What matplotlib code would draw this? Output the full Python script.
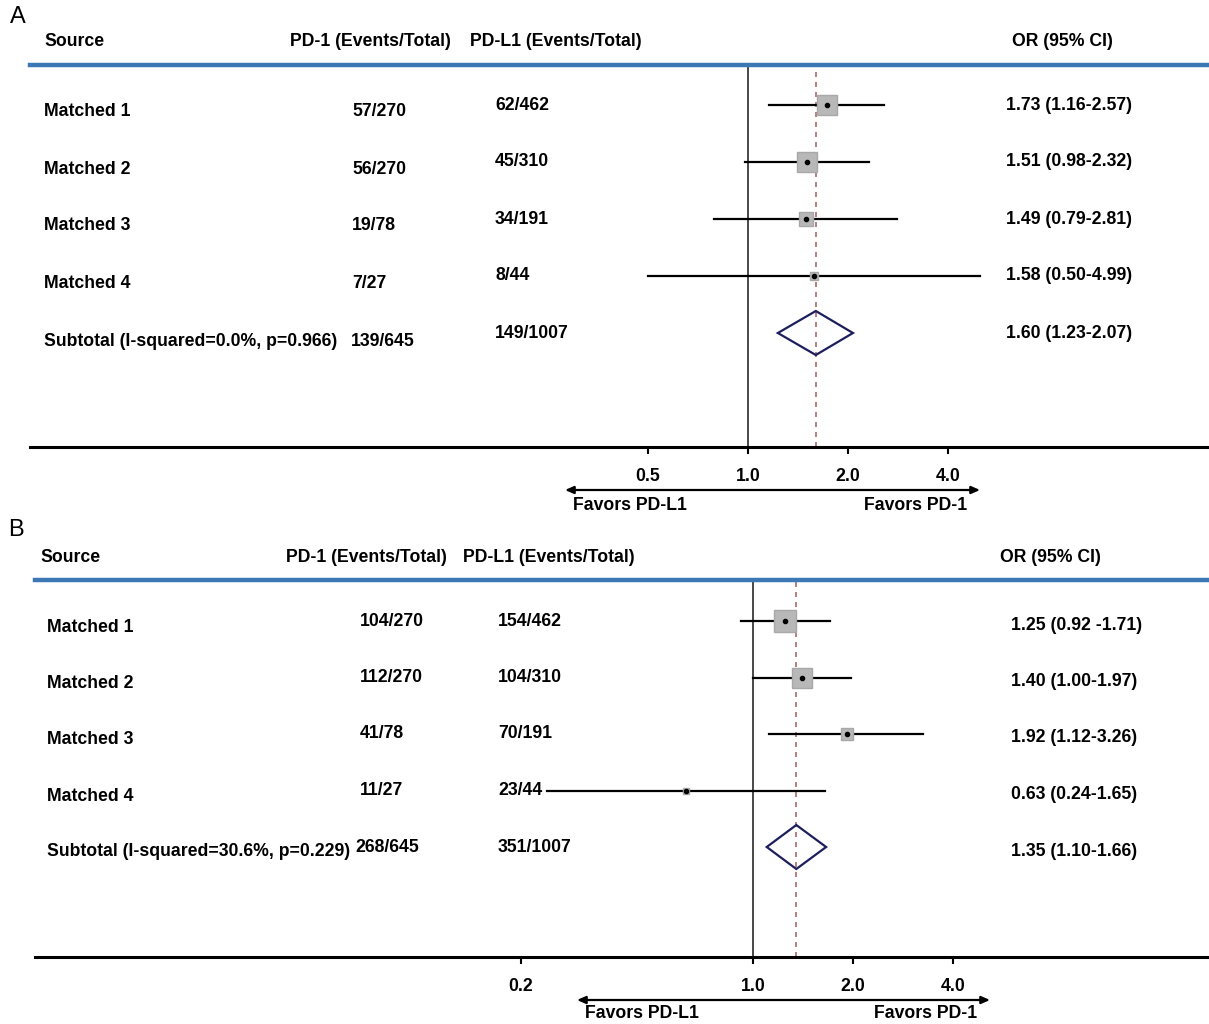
import matplotlib
matplotlib.use("Agg")
import matplotlib.pyplot as plt
import matplotlib.transforms as mtransforms
from matplotlib.patches import Polygon
from matplotlib.ticker import NullLocator

plt.rcParams["font.family"] = ["Liberation Sans", "DejaVu Sans"]

# ---- data -------------------------------------------------------------
studies = ["Matched 1", "Matched 2", "Matched 3", "Matched 4"]

a_pd1 = ["57/270", "56/270", "19/78", "7/27"]
a_pdl1 = ["62/462", "45/310", "34/191", "8/44"]
a_or = [1.73, 1.51, 1.49, 1.58]
a_lo = [1.16, 0.98, 0.79, 0.50]
a_hi = [2.57, 2.32, 2.81, 4.99]
a_weight = [42.3, 36.0, 16.6, 5.1]
a_sub_label = "Subtotal (I-squared=0.0%, p=0.966)"
a_sub_pd1 = "139/645"
a_sub_pdl1 = "149/1007"
a_sub = (1.60, 1.23, 2.07)
a_ticks = [0.5, 1.0, 2.0, 4.0]
a_ticklabels = ["0.5", "1.0", "2.0", "4.0"]
a_ci_text = ["1.73 (1.16-2.57)", "1.51 (0.98-2.32)", "1.49 (0.79-2.81)",
             "1.58 (0.50-4.99)", "1.60 (1.23-2.07)"]

b_pd1 = ["104/270", "112/270", "41/78", "11/27"]
b_pdl1 = ["154/462", "104/310", "70/191", "23/44"]
b_or = [1.25, 1.40, 1.92, 0.63]
b_lo = [0.92, 1.00, 1.12, 0.24]
b_hi = [1.71, 1.97, 3.26, 1.65]
b_weight = [44.0, 36.7, 14.7, 4.5]
b_sub_label = "Subtotal (I-squared=30.6%, p=0.229)"
b_sub_pd1 = "268/645"
b_sub_pdl1 = "351/1007"
b_sub = (1.35, 1.10, 1.66)
b_ticks = [0.2, 1.0, 2.0, 4.0]
b_ticklabels = ["0.2", "1.0", "2.0", "4.0"]
b_ci_text = ["1.25 (0.92 -1.71)", "1.40 (1.00-1.97)", "1.92 (1.12-3.26)",
             "0.63 (0.24-1.65)", "1.35 (1.10-1.66)"]

W, H = 1209, 1024
fig = plt.figure(figsize=(W / 100, H / 100), dpi=100)
FS = 12.7


def panel(box, one_px, row0, step, cols, offs, sub_offs, arrow, pd1, pdl1,
          ors, lo, hi, wts, sub_label, sub_pd1, sub_pdl1, sub, ticks,
          ticklabels, ci_text):
    left, right, top, bottom = box
    ax = fig.add_axes([left / W, 1 - bottom / H, (right - left) / W,
                       (bottom - top) / H])
    ax.set_xscale("log", base=2)
    ax.set_xlim(2 ** ((left - one_px) / 100), 2 ** ((right - one_px) / 100))
    ax.set_ylim((bottom - row0) / step, -(row0 - top) / step)

    for s in ("left", "right"):
        ax.spines[s].set_visible(False)
    ax.spines["top"].set_color("#3c77b6")
    ax.spines["top"].set_linewidth(3.2)
    ax.spines["bottom"].set_linewidth(2.2)
    ax.set_yticks([])
    ax.set_xticks(ticks)
    ax.set_xticklabels(ticklabels, fontsize=FS, fontweight="bold")
    ax.xaxis.set_minor_locator(NullLocator())
    ax.tick_params(axis="x", length=5, width=1.5, pad=10)

    ax.axvline(1.0, color="#3a3a3a", lw=1.3, zorder=1)
    ax.axvline(sub[0], color="#a86a6a", lw=1.2, ls=(0, (3, 3)), zorder=1)

    rows = list(range(len(ors)))
    for i in rows:
        ax.plot([lo[i], hi[i]], [i, i], color="black", lw=1.6, zorder=2)
        side = 21 * (wts[i] / 43) ** 0.5 * 0.72
        ax.plot(ors[i], i, marker="s", ms=side, color="#b8b8b8",
                mec="#a8a8a8", zorder=3)
        ax.plot(ors[i], i, marker="o", ms=3.0, color="black", zorder=4)

    k = len(ors)
    est, slo, shi = sub
    h = 22 / step
    ax.add_patch(Polygon([(slo, k), (est, k - h), (shi, k), (est, k + h)],
                         closed=True, fill=False, edgecolor="#1c1f5c",
                         lw=1.6, zorder=3))

    trans = mtransforms.blended_transform_factory(fig.transFigure, ax.transData)

    def put(px, y, s, dy=0):
        t = mtransforms.offset_copy(trans, fig=fig, x=0, y=-dy, units="dots")
        ax.text(px / W, y, s, transform=t, ha="left", va="center",
                fontsize=FS, fontweight="bold", clip_on=False)

    hy = (cols["hy"] - row0) / step
    put(cols["src_h"], hy, "Source")
    put(cols["pd1_h"], hy, "PD-1 (Events/Total)")
    put(cols["pdl1_h"], hy, "PD-L1 (Events/Total)")
    put(cols["or_h"], hy, "OR (95% CI)")

    for i in rows:
        put(cols["src"], i, studies[i], offs[0])
        put(cols["pd1"], i, pd1[i], offs[1])
        put(cols["pdl1"], i, pdl1[i], offs[2])
        put(cols["or"], i, ci_text[i], offs[3])
    put(cols["src"], k, sub_label, sub_offs[0])
    put(cols["sub_pd1"], k, sub_pd1, sub_offs[1])
    put(cols["pdl1"], k, sub_pdl1, sub_offs[2])
    put(cols["or"], k, ci_text[k], sub_offs[3])

    # favours arrow under the axis
    x0 = 2 ** ((arrow[0] - one_px) / 100)
    x1 = 2 ** ((arrow[1] - one_px) / 100)
    ya = -(arrow[2] - bottom) / (bottom - top)
    yt = -(arrow[3] - bottom) / (bottom - top)
    ax.annotate("", xy=(x1, ya), xytext=(x0, ya),
                xycoords=("data", "axes fraction"),
                arrowprops=dict(arrowstyle="<|-|>,head_length=0.5,head_width=0.22",
                                color="black", lw=1.6, shrinkA=0, shrinkB=0))
    ax.annotate("Favors PD-L1", xy=(x0, yt), xycoords=("data", "axes fraction"),
                xytext=(6, 0), textcoords="offset points", ha="left",
                va="center", fontsize=FS, fontweight="bold")
    ax.annotate("Favors PD-1", xy=(x1, yt), xycoords=("data", "axes fraction"),
                xytext=(-9, 0), textcoords="offset points", ha="right",
                va="center", fontsize=FS, fontweight="bold")
    return ax


panel((30, 1209, 65, 447), 748, 105, 57,
      {"hy": 41, "src_h": 44, "pd1_h": 290, "pdl1_h": 470, "or_h": 1012,
       "src": 44, "pd1": 352, "sub_pd1": 351, "pdl1": 495, "or": 1006},
      (7, 7, 0, 0), (8, 8, 0, 0), (565, 980, 490, 506),
      a_pd1, a_pdl1, a_or, a_lo, a_hi, a_weight, a_sub_label, a_sub_pd1,
      a_sub_pdl1, a_sub, a_ticks, a_ticklabels, a_ci_text)

panel((35, 1209, 580, 957), 753, 621, 56.5,
      {"hy": 557, "src_h": 40, "pd1_h": 286, "pdl1_h": 463, "or_h": 1000,
       "src": 47, "pd1": 360, "sub_pd1": 355, "pdl1": 498, "or": 1011},
      (6, 0, 0, 4), (4, 0, 0, 4), (577, 990, 1000, 1014),
      b_pd1, b_pdl1, b_or, b_lo, b_hi, b_weight, b_sub_label, b_sub_pd1,
      b_sub_pdl1, b_sub, b_ticks, b_ticklabels, b_ci_text)

fig.text(10 / W, 1 - 17 / H, "A", fontsize=17, ha="left", va="center")
fig.text(8 / W, 1 - 530 / H, "B", fontsize=17, ha="left", va="center")

fig.savefig("out.png", dpi=100)
